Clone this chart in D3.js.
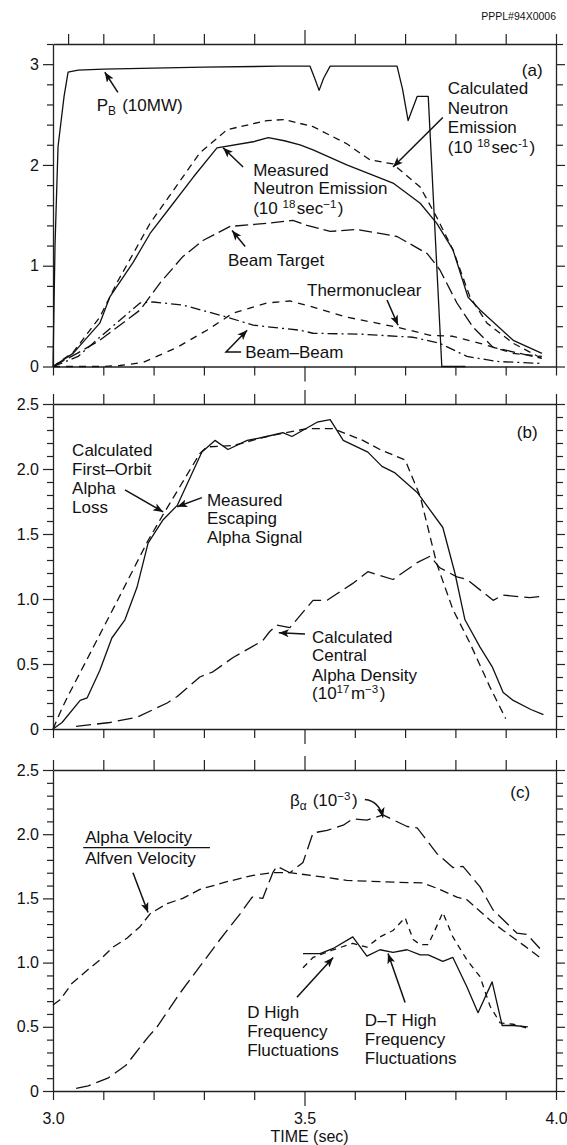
<!DOCTYPE html>
<html><head><meta charset="utf-8">
<script src="https://cdn.jsdelivr.net/npm/d3@7"></script>
<style>
html,body{margin:0;padding:0;background:#fff;}
svg{display:block;}
text{font-family:"Liberation Sans",Arial,Helvetica,sans-serif;fill:#111;}
</style></head><body>
<svg id="chart" width="567" height="1145"></svg>
<script>
// ---------- DATA (time in sec, value) ----------
const pbPower = [[3.0,0],[3.004,1.2],[3.010,2.18],[3.022,2.68],[3.030,2.92],[3.05,2.94],[3.1,2.95],[3.2,2.96],[3.3,2.97],[3.45,2.98],[3.511,2.98],[3.521,2.85],[3.529,2.74],[3.538,2.86],[3.551,2.98],[3.684,2.98],[3.695,2.75],[3.706,2.44],[3.724,2.68],[3.746,2.68],[3.773,0],[3.82,0]];
const measuredNeutron = [[3.0,0],[3.04,0.13],[3.093,0.43],[3.113,0.69],[3.159,1.03],[3.193,1.32],[3.233,1.58],[3.279,1.88],[3.326,2.17],[3.398,2.23],[3.428,2.27],[3.46,2.24],[3.491,2.20],[3.517,2.15],[3.584,2.0],[3.676,1.82],[3.73,1.62],[3.763,1.42],[3.795,1.16],[3.825,0.69],[3.849,0.56],[3.915,0.26],[3.972,0.13]];
const calcNeutron = [[3.0,0],[3.04,0.14],[3.093,0.49],[3.127,0.83],[3.193,1.42],[3.292,2.12],[3.346,2.35],[3.425,2.44],[3.46,2.45],[3.517,2.38],[3.584,2.21],[3.63,2.05],[3.676,2.01],[3.73,1.78],[3.763,1.48],[3.795,1.16],[3.829,0.69],[3.863,0.43],[3.915,0.23],[3.972,0.08]];
const beamTarget = [[3.0,0],[3.048,0.13],[3.093,0.26],[3.173,0.56],[3.213,0.83],[3.258,1.09],[3.298,1.25],[3.352,1.39],[3.425,1.42],[3.477,1.45],[3.505,1.40],[3.551,1.34],[3.604,1.36],[3.684,1.29],[3.744,1.12],[3.769,0.96],[3.803,0.63],[3.835,0.39],[3.875,0.19],[3.972,0.08]];
const beamBeam = [[3.0,0],[3.05,0.1],[3.093,0.29],[3.173,0.63],[3.199,0.64],[3.258,0.61],[3.346,0.49],[3.398,0.41],[3.491,0.36],[3.517,0.33],[3.616,0.32],[3.716,0.29],[3.769,0.23],[3.823,0.10],[3.883,0.05],[3.972,0.03]];
const thermonuclear = [[3.0,0],[3.1,0],[3.133,0.01],[3.179,0.04],[3.247,0.19],[3.306,0.36],[3.358,0.53],[3.425,0.63],[3.471,0.65],[3.517,0.59],[3.584,0.49],[3.684,0.39],[3.75,0.31],[3.795,0.30],[3.849,0.23],[3.915,0.13],[3.972,0.10]];

const escapingAlpha = [[3.0,0],[3.018,0.05],[3.054,0.22],[3.068,0.24],[3.093,0.45],[3.117,0.70],[3.143,0.84],[3.167,1.09],[3.189,1.43],[3.219,1.61],[3.247,1.72],[3.296,2.13],[3.322,2.22],[3.348,2.15],[3.386,2.22],[3.425,2.25],[3.457,2.28],[3.475,2.25],[3.525,2.36],[3.551,2.38],[3.577,2.22],[3.626,2.13],[3.654,2.02],[3.68,1.97],[3.724,1.82],[3.775,1.55],[3.799,1.20],[3.819,0.84],[3.849,0.63],[3.873,0.48],[3.895,0.28],[3.915,0.22],[3.95,0.15],[3.975,0.11]];
const firstOrbitLoss = [[3.0,0],[3.018,0.16],[3.028,0.24],[3.127,0.98],[3.189,1.45],[3.219,1.65],[3.292,2.12],[3.306,2.17],[3.358,2.18],[3.425,2.25],[3.491,2.30],[3.505,2.31],[3.557,2.31],[3.616,2.22],[3.65,2.15],[3.70,2.07],[3.73,1.79],[3.763,1.27],[3.795,0.92],[3.829,0.66],[3.869,0.32],[3.9,0.08]];
const alphaDensity = [[3.046,0.02],[3.113,0.05],[3.167,0.09],[3.227,0.2],[3.247,0.25],[3.292,0.4],[3.318,0.44],[3.358,0.55],[3.417,0.68],[3.431,0.75],[3.445,0.80],[3.471,0.78],[3.517,0.99],[3.545,0.99],[3.596,1.12],[3.626,1.21],[3.676,1.15],[3.724,1.28],[3.75,1.33],[3.769,1.24],[3.803,1.17],[3.823,1.15],[3.875,0.99],[3.895,1.03],[3.948,1.01],[3.972,1.02]];

const alphaVelocityRatio = [[3.0,0.67],[3.014,0.71],[3.038,0.84],[3.068,0.94],[3.093,1.02],[3.119,1.12],[3.147,1.19],[3.173,1.28],[3.193,1.38],[3.227,1.46],[3.258,1.50],[3.292,1.57],[3.346,1.63],[3.398,1.68],[3.437,1.70],[3.471,1.70],[3.531,1.67],[3.584,1.64],[3.65,1.63],[3.736,1.62],[3.769,1.57],[3.803,1.51],[3.823,1.49],[3.869,1.33],[3.895,1.25],[3.934,1.14],[3.968,1.04]];
const betaAlpha = [[3.046,0.02],[3.07,0.04],[3.109,0.10],[3.145,0.20],[3.189,0.42],[3.207,0.50],[3.252,0.76],[3.292,0.97],[3.332,1.18],[3.372,1.38],[3.396,1.51],[3.417,1.50],[3.437,1.70],[3.445,1.75],[3.471,1.70],[3.497,1.78],[3.517,2.01],[3.545,2.03],[3.577,2.07],[3.596,2.12],[3.624,2.11],[3.656,2.15],[3.704,2.06],[3.724,2.05],[3.763,1.85],[3.795,1.74],[3.815,1.75],[3.849,1.59],[3.875,1.41],[3.922,1.23],[3.942,1.22],[3.968,1.11]];
const dHighFreq = [[3.497,0.96],[3.517,1.04],[3.557,1.10],[3.596,1.15],[3.624,1.12],[3.65,1.20],[3.676,1.25],[3.70,1.35],[3.716,1.18],[3.73,1.14],[3.746,1.14],[3.759,1.25],[3.775,1.39],[3.795,1.20],[3.823,1.02],[3.849,0.89],[3.869,0.66],[3.889,0.53],[3.915,0.52],[3.942,0.49]];
const dtHighFreq = [[3.497,1.07],[3.531,1.07],[3.557,1.11],[3.596,1.20],[3.624,1.05],[3.65,1.10],[3.676,1.08],[3.704,1.10],[3.73,1.06],[3.746,1.06],[3.775,1.01],[3.795,1.04],[3.823,0.81],[3.845,0.61],[3.873,0.85],[3.893,0.51],[3.915,0.51],[3.944,0.50]];

// tick values
const xTopTicksA = [3.03,3.1,3.2,3.3,3.4,3.6,3.7,3.8,3.9,4.0];
const xEdgeTicks = [3.0,3.1,3.2,3.3,3.4,3.6,3.7,3.8,3.9,4.0];
const xMajorTick = [3.5];
const xTickLabels = [3.0,3.5,4.0];
const yMajorA = [0,1,2,3];
const yMajorBC = [0,0.5,1.0,1.5,2.0,2.5];

// ---------- DRAW ----------
const svg = d3.select("#chart");
const x = d3.scaleLinear().domain([3.0,4.0]).range([53,556]);
const yA = d3.scaleLinear().domain([0,3.2]).range([366.5,44]);
const yB = d3.scaleLinear().domain([0,2.5]).range([729,404]);
const yC = d3.scaleLinear().domain([0,2.5]).range([1091,770]);

const defs = svg.append("defs");
defs.append("marker").attr("id","ah").attr("viewBox","0 0 10 8")
  .attr("refX",10).attr("refY",4).attr("markerWidth",10).attr("markerHeight",8)
  .attr("markerUnits","userSpaceOnUse").attr("orient","auto")
  .append("path").attr("d","M0,0 L10,4 L0,8 L2.5,4 z").attr("fill","#111");

function range(a,b,s){const r=[];for(let v=a;v<=b+1e-9;v+=s)r.push(+v.toFixed(3));return r;}

function styleAxis(g){
  g.selectAll("path.domain").attr("stroke","#222").attr("stroke-width",1.3);
  g.selectAll(".tick line").attr("stroke","#222").attr("stroke-width",1.2);
  g.selectAll(".tick text").attr("font-family","Liberation Sans, Arial, sans-serif").attr("font-size",16).attr("fill","#222");
}

function panel(y, majors, minorStep, fmt, topTicks, showXLabels){
  const [y0,y1] = y.range();
  const ymax = y.domain()[1];
  // left majors
  const gl = svg.append("g").attr("transform",`translate(${x(3.0)},0)`)
    .call(d3.axisLeft(y).tickValues(majors).tickSize(10).tickSizeOuter(0).tickPadding(4).tickFormat(fmt));
  styleAxis(gl);
  const minors = range(0,ymax,minorStep).filter(v=>!majors.some(m=>Math.abs(m-v)<1e-6));
  const glm = svg.append("g").attr("transform",`translate(${x(3.0)},0)`)
    .call(d3.axisLeft(y).tickValues(minors).tickSize(6).tickFormat(""));
  glm.select("path.domain").remove(); styleAxis(glm);
  // right
  const gr = svg.append("g").attr("transform",`translate(${x(4.0)},0)`)
    .call(d3.axisRight(y).tickValues(minors).tickSize(7).tickSizeOuter(0).tickFormat(""));
  styleAxis(gr);
  const grm = svg.append("g").attr("transform",`translate(${x(4.0)},0)`)
    .call(d3.axisRight(y).tickValues(majors).tickSize(9).tickFormat(""));
  grm.select("path.domain").remove(); styleAxis(grm);
  // top
  const gt = svg.append("g").attr("transform",`translate(0,${y1})`)
    .call(d3.axisTop(x).tickValues(topTicks).tickSize(10).tickSizeOuter(0).tickFormat(""));
  styleAxis(gt);
  const gt2 = svg.append("g").attr("transform",`translate(0,${y1})`)
    .call(d3.axisTop(x).tickValues(xMajorTick).tickSize(14).tickFormat(""));
  gt2.select("path.domain").remove(); styleAxis(gt2);
  // bottom
  const gb = svg.append("g").attr("transform",`translate(0,${y0})`)
    .call(d3.axisBottom(x).tickValues(xEdgeTicks).tickSize(9).tickSizeOuter(0).tickFormat(""));
  styleAxis(gb);
  const gb2 = svg.append("g").attr("transform",`translate(0,${y0})`)
    .call(d3.axisBottom(x).tickValues(xMajorTick).tickSize(15).tickFormat(""));
  gb2.select("path.domain").remove(); styleAxis(gb2);
  if(showXLabels){
    const gx = svg.append("g").attr("transform",`translate(0,${y0})`)
      .call(d3.axisBottom(x).tickValues(xTickLabels).tickSize(0).tickPadding(22).tickFormat(d3.format(".1f")));
    gx.select("path.domain").remove(); styleAxis(gx);
  }
}

panel(yA, yMajorA, 0.2, d3.format("d"), xTopTicksA, false);
panel(yB, yMajorBC, 0.1, d3.format(".1f"), xEdgeTicks, false);
panel(yC, yMajorBC, 0.1, d3.format(".1f"), xEdgeTicks, true);
// panel b/c zero label as "0"
svg.selectAll("g.tick text").filter(function(){return this.textContent==="0.0";}).text("0");

function drawLine(data, y, dash){
  const line = d3.line().x(d=>x(d[0])).y(d=>y(d[1]));
  svg.append("path").datum(data).attr("d",line).attr("fill","none")
    .attr("stroke","#111").attr("stroke-width",1.3)
    .attr("stroke-dasharray",dash||null).attr("stroke-linejoin","round");
}
drawLine(pbPower, yA);
drawLine(measuredNeutron, yA);
drawLine(calcNeutron, yA, "7,5");
drawLine(beamTarget, yA, "13,5");
drawLine(thermonuclear, yA, "7,6");
drawLine(beamBeam, yA, "10,4,2,4");

drawLine(escapingAlpha, yB);
drawLine(firstOrbitLoss, yB, "8,5");
drawLine(alphaDensity, yB, "15,6");

drawLine(alphaVelocityRatio, yC, "9,5");
drawLine(betaAlpha, yC, "15,6");
drawLine(dHighFreq, yC, "6,5");
drawLine(dtHighFreq, yC);

// ---------- ANNOTATIONS ----------
function label(y, t, v, segs, size){
  const tx = svg.append("text").attr("x",x(t)).attr("y",y(v)).attr("font-size",size||17);
  segs.forEach(s=>{
    if(typeof s==="string"){ tx.append("tspan").text(s); }
    else if(s.sup){ tx.append("tspan").attr("font-size",(size||17)*0.68).attr("dy",-6).text(s.sup);
                    tx.append("tspan").attr("dy",6).text("\u200a"); }
    else if(s.sub){ tx.append("tspan").attr("font-size",(size||17)*0.7).attr("dy",4).text(s.sub);
                    tx.append("tspan").attr("dy",-4).text("\u200a"); }
  });
  return tx;
}
function arrow(y, pts){
  const line = d3.line().x(d=>x(d[0])).y(d=>y(d[1]));
  svg.append("path").attr("d",line(pts)).attr("fill","none").attr("stroke","#111")
    .attr("stroke-width",1.5).attr("marker-end","url(#ah)");
}

// panel a
label(yA,3.087,2.535,["P",{sub:"B"}," (10MW)"]);
arrow(yA,[[3.129,2.72],[3.103,2.92]]);
label(yA,3.932,2.88,["(a)"]);
label(yA,3.785,2.70,["Calculated"]);
label(yA,3.785,2.51,["Neutron"]);
label(yA,3.785,2.32,["Emission"]);
label(yA,3.785,2.12,["(10 ",{sup:"18"},"sec",{sup:"-1"},")"]);
arrow(yA,[[3.775,2.47],[3.676,1.98]]);
label(yA,3.398,1.89,["Measured"]);
label(yA,3.398,1.71,["Neutron Emission"]);
label(yA,3.398,1.51,["(10 ",{sup:"18"},"sec",{sup:"\u22121"},")"]);
arrow(yA,[[3.378,1.98],[3.338,2.17]]);
label(yA,3.348,1.0,["Beam Target"]);
arrow(yA,[[3.382,1.19],[3.356,1.35]]);
label(yA,3.505,0.70,["Thermonuclear"]);
arrow(yA,[[3.664,0.66],[3.686,0.41]]);
label(yA,3.382,0.085,["Beam\u2013Beam"]);
arrow(yA,[[3.374,0.144],[3.344,0.144],[3.386,0.36]]);

// panel b
label(yB,3.922,2.24,["(b)"]);
label(yB,3.038,2.10,["Calculated"]);
label(yB,3.038,1.954,["First\u2013Orbit"]);
label(yB,3.038,1.808,["Alpha"]);
label(yB,3.038,1.66,["Loss"]);
arrow(yB,[[3.143,1.84],[3.219,1.67]]);
label(yB,3.306,1.715,["Measured"]);
label(yB,3.306,1.577,["Escaping"]);
label(yB,3.306,1.43,["Alpha Signal"]);
arrow(yB,[[3.296,1.78],[3.247,1.71]]);
label(yB,3.515,0.66,["Calculated"]);
label(yB,3.515,0.52,["Central"]);
label(yB,3.515,0.37,["Alpha Density"]);
label(yB,3.515,0.23,["(10",{sup:"17"},"m",{sup:"\u22123"},")"]);
arrow(yB,[[3.501,0.73],[3.449,0.74]]);

// panel c
label(yC,3.909,2.28,["(c)"]);
label(yC,3.471,2.22,["\u03b2",{sub:"\u03b1"}," (10",{sup:"\u22123"},")"]);
svg.append("path").attr("d",`M${x(3.620)},${yC(2.27)} Q${x(3.648)},${yC(2.26)} ${x(3.656)},${yC(2.13)}`)
  .attr("fill","none").attr("stroke","#111").attr("stroke-width",1.5).attr("marker-end","url(#ah)");
label(yC,3.064,1.93,["Alpha Velocity"]);
svg.append("line").attr("x1",x(3.060)).attr("x2",x(3.312)).attr("y1",yC(1.895)).attr("y2",yC(1.895))
  .attr("stroke","#111").attr("stroke-width",1.2);
label(yC,3.064,1.77,["Alfven Velocity"]);
arrow(yC,[[3.159,1.70],[3.189,1.39]]);
label(yC,3.386,0.57,["D High"]);
label(yC,3.386,0.42,["Frequency"]);
label(yC,3.386,0.27,["Fluctuations"]);
arrow(yC,[[3.485,0.73],[3.557,1.04]]);
label(yC,3.62,0.51,["D\u2013T High"]);
label(yC,3.62,0.36,["Frequency"]);
label(yC,3.62,0.21,["Fluctuations"]);
arrow(yC,[[3.70,0.69],[3.666,1.07]]);

// axis title and header
svg.append("text").attr("x",x(3.51)).attr("y",1142).attr("text-anchor","middle")
  .attr("font-size",16).text("TIME (sec)");
svg.append("text").attr("x",556).attr("y",20).attr("text-anchor","end")
  .attr("font-size",10.5).attr("fill","#555").text("PPPL#94X0006");
</script>
</body></html>
